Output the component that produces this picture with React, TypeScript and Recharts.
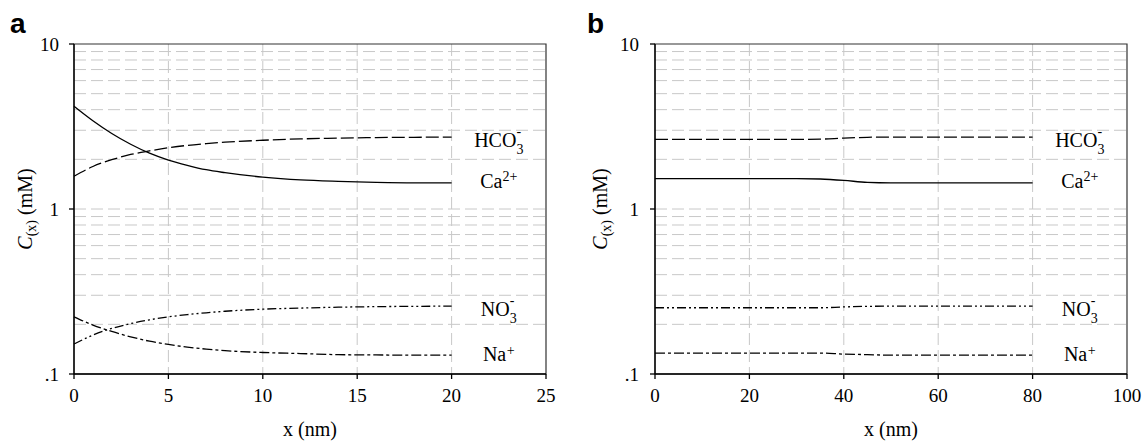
import React from 'react';
import { LineChart, Line, XAxis, YAxis, CartesianGrid, ReferenceArea, ReferenceDot } from 'recharts';

const FONT = '"Liberation Serif", "Times New Roman", serif';

// Panel a
const xA = [0, 1, 2, 3, 4, 5, 6, 7, 8, 10, 12, 14, 16, 18, 20];
const hco3A = [1.58, 1.81, 1.99, 2.14, 2.25, 2.35, 2.43, 2.49, 2.54, 2.61, 2.66, 2.69, 2.71, 2.72, 2.73];
const caA = [4.2, 3.43, 2.87, 2.47, 2.18, 1.98, 1.84, 1.73, 1.66, 1.56, 1.5, 1.47, 1.45, 1.44, 1.44];
const no3A = [0.152, 0.172, 0.189, 0.202, 0.213, 0.222, 0.229, 0.235, 0.24, 0.247, 0.251, 0.254, 0.256, 0.257, 0.258];
const naA = [0.222, 0.198, 0.181, 0.168, 0.158, 0.151, 0.1455, 0.1415, 0.1385, 0.135, 0.133, 0.131, 0.1305, 0.13, 0.13];

// Panel b
const xB = [0, 10, 20, 30, 35, 40, 45, 50, 60, 70, 80];
const hco3B = [2.64, 2.64, 2.64, 2.64, 2.65, 2.69, 2.72, 2.73, 2.73, 2.73, 2.73];
const caB = [1.53, 1.53, 1.53, 1.53, 1.52, 1.49, 1.45, 1.44, 1.44, 1.44, 1.44];
const no3B = [0.252, 0.252, 0.252, 0.252, 0.252, 0.255, 0.257, 0.258, 0.258, 0.258, 0.258];
const naB = [0.134, 0.134, 0.134, 0.134, 0.134, 0.132, 0.131, 0.13, 0.13, 0.13, 0.13];

const yTicks = [0.1, 1, 10];
const yTickLabels: Record<string, string> = { '0.1': '.1', '1': '1', '10': '10' };
const yGrid = [0.2, 0.3, 0.4, 0.5, 0.6, 0.7, 0.8, 0.9, 1, 2, 3, 4, 5, 6, 7, 8, 9];
const xTicksA = [0, 5, 10, 15, 20, 25];
const xTicksB = [0, 20, 40, 60, 80, 100];

// series label anchors
const labelXA = 22.5;
const labelXB = 90;
const labelYs = { hco3: 2.6, ca: 1.47, no3: 0.246, na: 0.132 };

type Ion = { key: 'hco3' | 'ca' | 'no3' | 'na'; main: string; sub?: string; sup?: string; dash?: string };
const ions: Ion[] = [
  { key: 'hco3', main: 'HCO', sub: '3', sup: '-', dash: '13 4' },
  { key: 'ca', main: 'Ca', sup: '2+' },
  { key: 'no3', main: 'NO', sub: '3', sup: '-', dash: '9 3 2 3 2 3' },
  { key: 'na', main: 'Na', sup: '+', dash: '10 3 3 3' },
];

function buildRows(xs: number[], h: number[], c: number[], n: number[], s: number[]) {
  return xs.map((x, i) => ({ x, hco3: h[i], ca: c[i], no3: n[i], na: s[i] }));
}

const dataA = buildRows(xA, hco3A, caA, no3A, naA);
const dataB = buildRows(xB, hco3B, caB, no3B, naB);

const textStyle = { fontFamily: FONT };

function ionText(cx: number, cy: number, ion: Ion) {
  return (
    <text x={cx} y={cy + 6.5} textAnchor="middle" style={textStyle} fontSize={20} fill="#000">
      {ion.main}
      {ion.sub && (
        <tspan fontSize={14} dy={7}>
          {ion.sub}
        </tspan>
      )}
      {ion.sup && (
        <tspan
          fontSize={14}
          dx={ion.sub ? -7 : ion.sup === '+' ? 0.5 : 0}
          dy={ion.sub ? -18 : ion.sup === '+' ? -6 : -7}
        >
          {ion.sup}
        </tspan>
      )}
    </text>
  );
}

function YLabel(props: any) {
  const vb = props.viewBox || { x: 0, y: 0, width: 0, height: 0 };
  const x = vb.x + props.baseX;
  const y = vb.y + vb.height / 2;
  return (
    <text
      x={x}
      y={y}
      transform={`rotate(-90 ${x} ${y})`}
      textAnchor="middle"
      style={textStyle}
      fontSize={20}
      fill="#000"
    >
      <tspan fontStyle="italic">C</tspan>
      <tspan fontSize={14} dy={4}>
        (x)
      </tspan>
      <tspan dy={-4}> (mM)</tspan>
    </text>
  );
}

function XLabel(props: any) {
  const vb = props.viewBox || { x: 0, y: 0, width: 0, height: 0 };
  return (
    <text x={vb.x + vb.width / 2} y={vb.y + 62} textAnchor="middle" style={textStyle} fontSize={20} fill="#000">
      x (nm)
    </text>
  );
}

type PanelProps = {
  data: any[];
  xTicks: number[];
  xMax: number;
  yAxisWidth: number;
  right: number;
  labelBaseX: number;
  labelX: number;
  letter: string;
  tickMargin: number;
};

function Panel({ data, xTicks, xMax, yAxisWidth, right, labelBaseX, labelX, letter, tickMargin }: PanelProps) {
  const tickStyle = { fill: '#000', fontSize: 19, fontFamily: FONT, style: textStyle };
  return (
    <div style={{ position: 'relative', width: 572, height: 442, fontFamily: FONT }}>
      <LineChart width={572} height={442} data={data} margin={{ top: 44, right, bottom: 0, left: 0 }} style={textStyle}>
        <CartesianGrid
          stroke="#c8c8c8"
          strokeDasharray="12 5"
          horizontalValues={yGrid}
          verticalValues={xTicks.slice(1, -1)}
        />
        <ReferenceArea x1={0} x2={xMax} y1={0.1} y2={10} fill="none" stroke="#333" strokeWidth={1.2} />
        <XAxis
          dataKey="x"
          type="number"
          domain={[0, xMax]}
          ticks={xTicks}
          interval={0}
          height={68}
          tickSize={5}
          tickMargin={10}
          tick={tickStyle}
          axisLine={{ stroke: '#000', strokeWidth: 1.3 }}
          tickLine={{ stroke: '#000', strokeWidth: 1.3 }}
          label={{ content: (p: any) => <XLabel {...p} /> }}
        />
        <YAxis
          type="number"
          scale="log"
          domain={[0.1, 10]}
          allowDataOverflow
          ticks={yTicks}
          interval={0}
          width={yAxisWidth}
          tickSize={5}
          tickMargin={tickMargin}
          tick={tickStyle}
          tickFormatter={(v: number) => yTickLabels[String(v)] ?? String(v)}
          axisLine={{ stroke: '#000', strokeWidth: 1.3 }}
          tickLine={{ stroke: '#000', strokeWidth: 1.3 }}
          label={{ content: (p: any) => <YLabel {...p} baseX={labelBaseX} /> }}
        />
        {ions.map((ion) => (
          <Line
            key={ion.key}
            dataKey={ion.key}
            type="monotone"
            stroke="#000"
            strokeWidth={1.3}
            strokeDasharray={ion.dash}
            dot={false}
            activeDot={false}
            isAnimationActive={false}
          />
        ))}
        {ions.map((ion) => (
          <ReferenceDot
            key={'lbl-' + ion.key}
            x={labelX}
            y={labelYs[ion.key]}
            r={1}
            fill="none"
            stroke="none"
            shape={(p: any) => ionText(p.cx, p.cy, ion)}
          />
        ))}
      </LineChart>
      <svg width={60} height={50} style={{ position: 'absolute', left: 0, top: 0 }}>
        <text
          x={letter === 'a' ? 10 : 15}
          y={33}
          style={{ fontFamily: '"Liberation Sans", Arial, sans-serif' }}
          fontWeight="bold"
          fontSize={28}
          fill="#000"
        >
          {letter}
        </text>
      </svg>
    </div>
  );
}

export default function App() {
  return (
    <div style={{ position: 'absolute', left: 0, top: 0, width: 1144, height: 442, background: '#fff', display: 'flex' }}>
      <Panel
        data={dataA}
        xTicks={xTicksA}
        xMax={25}
        yAxisWidth={74}
        right={26}
        labelBaseX={32}
        labelX={labelXA}
        letter="a"
        tickMargin={10}
      />
      <Panel
        data={dataB}
        xTicks={xTicksB}
        xMax={100}
        yAxisWidth={83}
        right={17}
        labelBaseX={35}
        labelX={labelXB}
        letter="b"
        tickMargin={11}
      />
    </div>
  );
}
